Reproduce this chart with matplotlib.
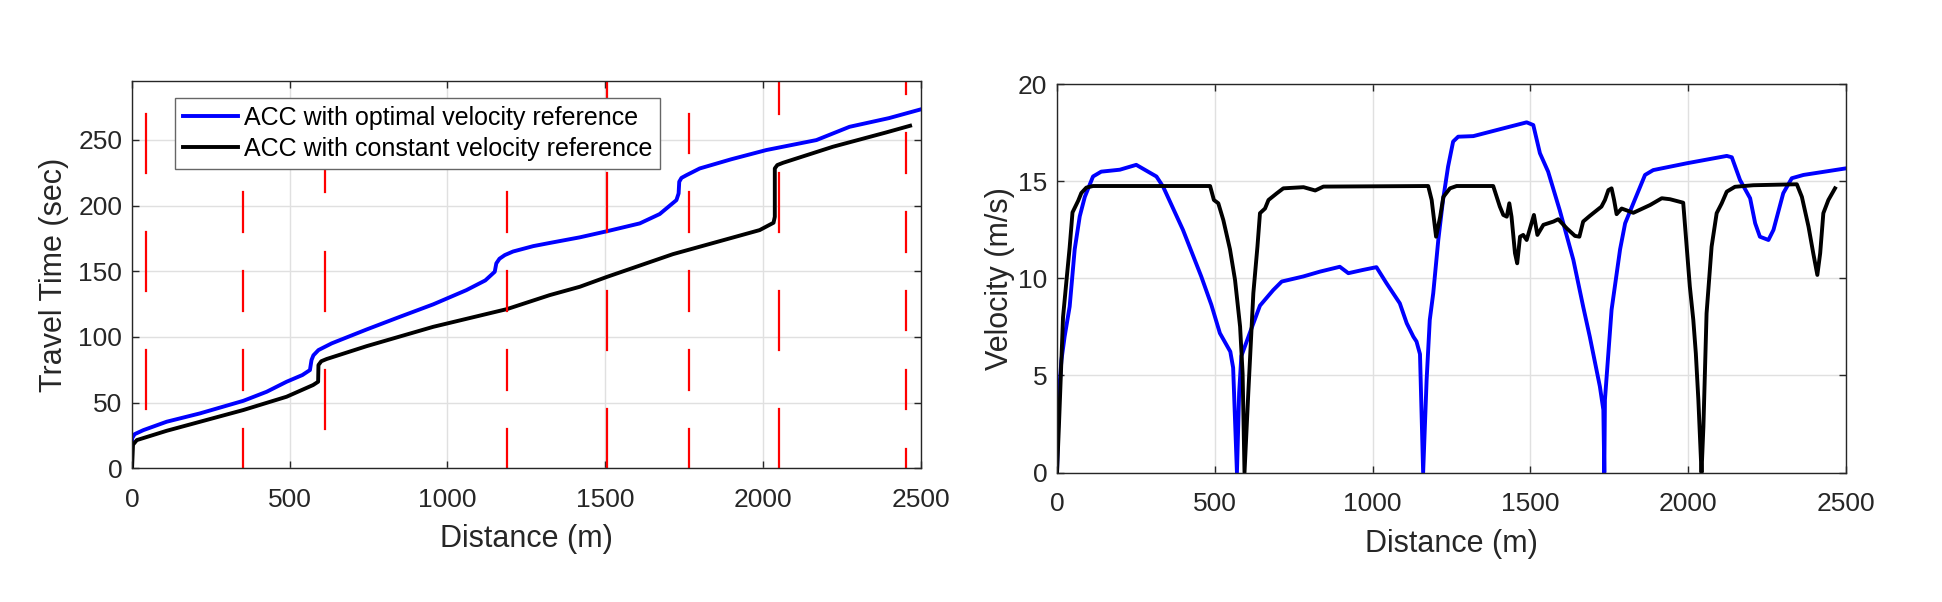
import matplotlib
matplotlib.use('Agg')
import matplotlib.pyplot as plt

plt.rcParams['font.family'] = ['Liberation Sans', 'DejaVu Sans']

# ---- travel time vs distance ----
opt_x = [0, 0, 8, 36, 110, 215, 353, 427, 490, 540, 564, 569, 575, 591, 633, 744, 849, 955,
         1060, 1120, 1150, 1155, 1165, 1182, 1208, 1272, 1324, 1420, 1507, 1610, 1673, 1726,
         1733, 1735, 1742, 1758, 1800, 1900, 2011, 2170, 2275, 2400, 2500]
opt_t = [0, 22.8, 26.0, 29.1, 35.5, 41.8, 51.4, 58.3, 65.9, 71.0, 74.8, 82.4, 86.0, 90, 95.1,
         105.7, 115.3, 124.8, 135.6, 143.0, 149.6, 156, 159.5, 162.3, 165.0, 169.1, 171.5,
         175.8, 180.5, 186.4, 193.5, 204.1, 209.2, 218.1, 221.0, 223.1, 228.2, 235.2, 242.2,
         249.8, 259.9, 266.5, 273.1]

const_x = [0, 3, 15, 110, 353, 490, 574, 590, 591, 600, 617, 744, 955, 1189, 1324, 1420,
           1507, 1715, 1990, 2034, 2038, 2038, 2046, 2064, 2222, 2391, 2467]
const_t = [0, 18, 21.5, 28.6, 44.4, 54.5, 63.4, 65.9, 78.6, 81.5, 83.2, 93, 107.7, 121.2,
           131.8, 138.2, 145.8, 163, 181.3, 186.9, 191.4, 228.2, 230.8, 232.5, 244.7, 255.6,
           260.7]

# red signal phases (distance of light, list of red intervals in sec)
light_x = [44, 353, 611, 1189, 1507, 1765, 2050, 2455]
light_red = [
    [(45, 90), (135, 180), (225, 270)],
    [(0, 30), (60, 90), (120, 150), (180, 210), (240, 270)],
    [(30, 75), (120, 165), (210, 255)],
    [(0, 30), (60, 90), (120, 150), (180, 210), (240, 270)],
    [(0, 45), (90, 135), (180, 225), (270, 315)],
    [(0, 30), (60, 90), (120, 150), (180, 210), (240, 270)],
    [(0, 45), (90, 135), (180, 225), (270, 315)],
    [(0, 15), (45, 75), (105, 135), (165, 195), (225, 255), (285, 315)],
]

# ---- velocity vs distance ----
vopt_x = [0, 6, 14, 24, 40, 56, 72, 88, 114, 140, 199, 251, 315, 336, 399, 457, 489, 516,
          549, 558, 570, 577, 584, 611, 643, 685, 712, 780, 833, 896, 923, 970, 1012, 1044,
          1086, 1108, 1129, 1139, 1150, 1160, 1171, 1181, 1192, 1208, 1223, 1239, 1255,
          1271, 1319, 1414, 1488, 1509, 1530, 1556, 1593, 1636, 1667, 1688, 1720, 1731,
          1734, 1736, 1757, 1784, 1800, 1826, 1863, 1889, 1995, 2122, 2138, 2164, 2196,
          2212, 2227, 2254, 2270, 2301, 2328, 2365, 2500]
vopt_v = [0, 4.1, 5.8, 7.0, 8.55, 11.5, 13.2, 14.2, 15.25, 15.5, 15.6, 15.85, 15.25, 14.73,
          12.5, 10.1, 8.64, 7.18, 6.23, 5.4, 0, 4.1, 6.0, 7.2, 8.6, 9.4, 9.84, 10.1, 10.35,
          10.6, 10.27, 10.44, 10.58, 9.75, 8.72, 7.69, 7.0, 6.75, 6.1, 0, 4.77, 7.86, 9.24,
          11.98, 14.04, 15.76, 17.05, 17.3, 17.33, 17.73, 18.04, 17.9, 16.45, 15.5, 13.5,
          10.95, 8.55, 7.0, 4.43, 3.23, 0, 3.75, 8.38, 11.5, 12.84, 13.87, 15.33, 15.58,
          15.93, 16.31, 16.24, 15.07, 14.13, 12.84, 12.15, 11.98, 12.5, 14.39, 15.16, 15.33,
          15.67]

vconst_x = [0, 6, 19, 30, 40, 49, 67, 77, 93, 114, 485, 497, 511, 527, 548, 564, 580, 588,
            594, 606, 622, 635, 643, 659, 670, 696, 717, 781, 818, 844, 1176, 1187, 1201,
            1214, 1224, 1245, 1266, 1382, 1403, 1414, 1425, 1433, 1440, 1451, 1458, 1467,
            1477, 1488, 1499, 1511, 1522, 1541, 1573, 1588, 1615, 1641, 1655, 1667, 1688,
            1725, 1736, 1747, 1757, 1765, 1773, 1789, 1826, 1879, 1916, 1942, 1984, 1995,
            2005, 2016, 2024, 2032, 2042, 2048, 2058, 2074, 2090, 2106, 2122, 2148, 2206,
            2344, 2360, 2381, 2396, 2409, 2418, 2428, 2444, 2465]
vconst_v = [0, 2.4, 8.0, 9.9, 11.6, 13.4, 14.0, 14.4, 14.68, 14.76, 14.76, 14.04, 13.87,
            13.0, 11.5, 9.92, 7.52, 5.1, 0, 4.1, 9.24, 11.64, 13.36, 13.6, 14.04, 14.38,
            14.64, 14.7, 14.53, 14.73, 14.76, 14.04, 12.15, 13.18, 14.2, 14.64, 14.76, 14.76,
            13.7, 13.27, 13.18, 13.87, 13.18, 11.3, 10.78, 12.15, 12.24, 11.98, 12.6, 13.27,
            12.24, 12.76, 12.93, 13.05, 12.58, 12.19, 12.15, 12.93, 13.22, 13.7, 14.04, 14.55,
            14.64, 14.04, 13.31, 13.6, 13.38, 13.78, 14.13, 14.08, 13.9, 11.64, 9.58, 7.86,
            6.14, 3.75, 0, 2.37, 8.2, 11.64, 13.36, 13.87, 14.47, 14.72, 14.8, 14.85, 14.2,
            12.67, 11.3, 10.18, 11.3, 13.36, 14.04, 14.64]

blue = '#0000ff'
dark = '#262626'
tick_fs = 19
label_fs = 22
lw = 2.8

fig = plt.figure(figsize=(19.42, 6.02), dpi=100)
ax1 = fig.add_axes([0.068, 0.222, 0.406, 0.644])
ax2 = fig.add_axes([0.5443, 0.215, 0.4063, 0.645])

for ax in (ax1, ax2):
    ax.grid(True, color='#e0e0e0', linewidth=1)
    ax.set_axisbelow(True)
    ax.tick_params(direction='in', labelsize=tick_fs, colors=dark, length=5, width=1,
                   top=True, right=True, labeltop=False, labelright=False)
    ax.tick_params(axis='x', pad=14)
    ax.tick_params(axis='y', pad=7)
    for s in ax.spines.values():
        s.set_color(dark)
        s.set_linewidth(1)

# left plot
ax1.plot(opt_x, opt_t, color=blue, lw=lw, label='ACC with optimal velocity reference')
ax1.plot(const_x, const_t, color='black', lw=lw, label='ACC with constant velocity reference')
for xl, reds in zip(light_x, light_red):
    for a, b in reds:
        ax1.plot([xl, xl], [a, b], color='red', lw=1.6)
ax1.set_xlim(0, 2500)
ax1.set_ylim(0, 295)
ax1.set_xticks([0, 500, 1000, 1500, 2000, 2500])
ax1.set_yticks([0, 50, 100, 150, 200, 250])
ax1.set_xlabel('Distance (m)', fontsize=label_fs, color=dark, labelpad=9)
ax1.set_ylabel('Travel Time (sec)', fontsize=label_fs, color=dark, labelpad=7)
leg = ax1.legend(loc='upper left', bbox_to_anchor=(0.0545, 0.955), borderaxespad=0,
                 fontsize=18, fancybox=False, framealpha=1, edgecolor='#666666',
                 handlelength=2.2, handletextpad=0.25, borderpad=0.3, labelspacing=0.3)
leg.set_zorder(10)
leg.get_frame().set_linewidth(1)

# right plot
ax2.plot(vopt_x, vopt_v, color=blue, lw=lw)
ax2.plot(vconst_x, vconst_v, color='black', lw=lw)
ax2.set_xlim(0, 2500)
ax2.set_ylim(0, 20)
ax2.set_xticks([0, 500, 1000, 1500, 2000, 2500])
ax2.set_yticks([0, 5, 10, 15, 20])
ax2.set_xlabel('Distance (m)', fontsize=label_fs, color=dark, labelpad=9)
ax2.set_ylabel('Velocity (m/s)', fontsize=label_fs, color=dark, labelpad=2)

fig.savefig('out.png', dpi=100)
